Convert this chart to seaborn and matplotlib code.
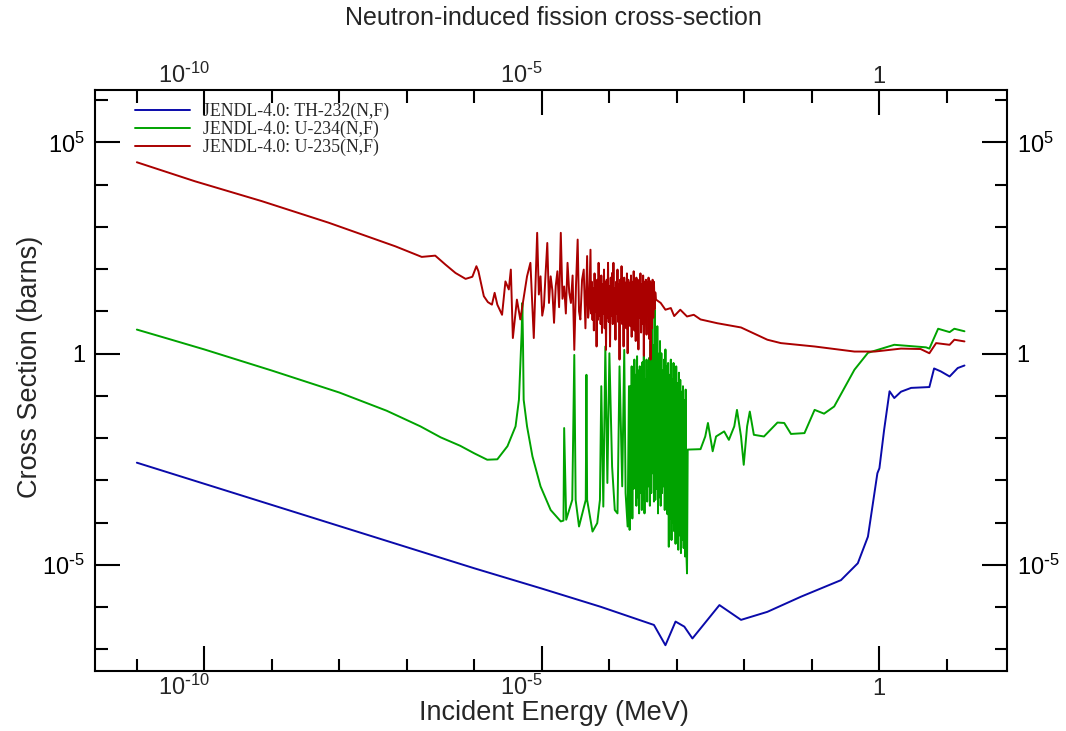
import numpy as np
import pandas as pd
import seaborn as sns
import matplotlib.pyplot as plt
from matplotlib.ticker import FixedLocator, FuncFormatter, NullFormatter
from matplotlib.transforms import ScaledTranslation

# values, stored as log10(energy / MeV) and log10(sigma / barns)
th232_log_e = [-11, -10, -9, -8, -7, -6, -5, -4.13, -3.34, -3.17, -3.02, -2.89, -2.77,
               -2.37, -2.05, -1.66, -1.16, -0.57, -0.32, -0.17, -0.03, 0.0, 0.07, 0.15,
               0.22, 0.32, 0.47, 0.74, 0.81, 0.91, 1.04, 1.16, 1.26]
th232_log_xs = [-2.58, -3.08, -3.58, -4.08, -4.58, -5.08, -5.56, -5.99, -6.42, -6.90, -6.34,
                -6.46, -6.74, -5.95, -6.30, -6.11, -5.75, -5.36, -4.96, -4.33, -2.83, -2.71,
                -1.80, -0.89, -1.05, -0.90, -0.81, -0.79, -0.35, -0.42, -0.54, -0.34, -0.28]

# U-234: thermal part, first resonances, dense unresolved block, fast part
u234_low = [(-11, 0.57), (-10.53, 0.35), (-10, 0.10), (-9, -0.40), (-8, -0.92), (-7.3, -1.35),
            (-6.8, -1.72), (-6.5, -1.98), (-6.21, -2.18), (-6.0, -2.36), (-5.81, -2.51),
            (-5.66, -2.50), (-5.51, -2.19), (-5.39, -1.72), (-5.34, -1.09), (-5.32, -0.30),
            (-5.30, 0.50), (-5.29, 1.20), (-5.28, 0.30), (-5.27, -1.09), (-5.22, -1.72),
            (-5.14, -2.43), (-5.02, -3.14), (-4.87, -3.70), (-4.72, -3.97), (-4.68, -3.95),
            (-4.67, -1.76), (-4.64, -3.93), (-4.55, -3.46), (-4.52, -0.03), (-4.50, -3.46),
            (-4.45, -4.09), (-4.35, -3.46), (-4.34, -0.50), (-4.33, -3.46), (-4.25, -4.21),
            (-4.18, -4.01), (-4.14, -3.46), (-4.12, -0.77), (-4.09, -3.62), (-4.06, 0.17),
            (-4.03, -3.06), (-4.00, 0.01), (-3.96, -2.67), (-3.92, -3.70), (-3.88, -3.78),
            (-3.85, -0.30), (-3.81, -3.14), (-3.78, 0.09), (-3.76, -3.30), (-3.73, -4.09),
            (-3.71, -0.77)]
u234_dense = [(-3.70, -4.17), (-3.69, -0.77), (-3.68, -3.60), (-3.67, -0.30), (-3.66, -3.90),
              (-3.65, -0.60), (-3.64, -3.20), (-3.63, -0.14), (-3.62, -2.91), (-3.61, -0.50),
              (-3.60, -3.60), (-3.59, -0.06), (-3.58, -3.40), (-3.57, -0.40), (-3.56, -3.78),
              (-3.55, -0.30), (-3.54, -3.30), (-3.53, -0.90), (-3.52, -3.70), (-3.51, -0.20),
              (-3.50, -3.46), (-3.49, -0.06), (-3.48, -3.78), (-3.47, -0.60), (-3.46, -3.20),
              (-3.45, -0.14), (-3.44, -3.50), (-3.43, -0.40), (-3.42, -3.14), (-3.41, -0.10),
              (-3.40, -3.60), (-3.39, 0.30), (-3.38, -3.30), (-3.37, 0.65), (-3.36, -2.83),
              (-3.35, 0.20), (-3.34, -3.50), (-3.33, 1.04), (-3.32, -3.46), (-3.31, 0.40),
              (-3.30, -3.20), (-3.29, 0.65), (-3.28, -3.78), (-3.27, 0.00), (-3.26, -3.40),
              (-3.25, 0.30), (-3.24, -3.60), (-3.23, 0.01), (-3.22, -3.30), (-3.21, -0.40),
              (-3.20, -3.14), (-3.19, -0.14), (-3.18, -3.70), (-3.17, 0.10), (-3.16, -3.40),
              (-3.15, -0.30), (-3.14, -3.80), (-3.13, -0.22), (-3.12, -4.57), (-3.11, -0.50),
              (-3.10, -3.90), (-3.09, -0.14), (-3.08, -4.41), (-3.07, -0.60), (-3.06, -4.00),
              (-3.05, -0.22), (-3.04, -4.20), (-3.03, -0.40), (-3.02, -4.50), (-3.01, -0.30),
              (-3.00, -3.90), (-2.99, -0.70), (-2.98, -4.64), (-2.97, -0.45), (-2.96, -4.30),
              (-2.95, -0.62), (-2.94, -4.72), (-2.93, -0.90), (-2.92, -4.40), (-2.91, -0.77),
              (-2.90, -4.60), (-2.89, -1.10), (-2.88, -4.80), (-2.87, -0.85), (-2.86, -4.70),
              (-2.85, -5.20)]
u234_high = [(-2.84, -2.27), (-2.65, -2.26), (-2.58, -1.96), (-2.54, -1.64), (-2.47, -2.31),
             (-2.42, -1.96), (-2.30, -1.84), (-2.23, -2.04), (-2.15, -1.72), (-2.11, -1.33),
             (-2.05, -1.96), (-2.01, -2.63), (-1.96, -1.72), (-1.92, -1.37), (-1.86, -1.92),
             (-1.71, -1.96), (-1.51, -1.63), (-1.41, -1.64), (-1.31, -1.90), (-1.11, -1.88),
             (-0.96, -1.33), (-0.82, -1.42), (-0.67, -1.25), (-0.37, -0.38), (-0.17, 0.02),
             (0.22, 0.21), (0.69, 0.15), (0.74, 0.12), (0.87, 0.59), (1.04, 0.51), (1.11, 0.59),
             (1.26, 0.53)]

# U-235: same split
u235_low = [(-11, 4.53), (-10.14, 4.08), (-9.15, 3.61), (-8.16, 3.10), (-7.17, 2.54),
            (-6.78, 2.29), (-6.58, 2.32), (-6.43, 2.11), (-6.28, 1.91), (-6.13, 1.77),
            (-6.03, 1.82), (-5.97, 2.07), (-5.94, 1.95), (-5.86, 1.36), (-5.80, 1.22),
            (-5.74, 1.16), (-5.70, 1.44), (-5.66, 1.16), (-5.59, 0.92), (-5.54, 1.71),
            (-5.49, 1.52), (-5.46, 1.99), (-5.43, 0.37), (-5.37, 1.28), (-5.32, 0.81),
            (-5.27, 1.32), (-5.22, 1.83), (-5.17, 2.15), (-5.12, 0.37), (-5.07, 2.86),
            (-5.045, 1.40), (-5.02, 1.83), (-4.995, 0.90), (-4.97, 1.12), (-4.945, 1.90),
            (-4.92, 2.62), (-4.895, 1.20), (-4.87, 1.83), (-4.845, 1.50), (-4.82, 0.73),
            (-4.795, 1.60), (-4.77, 1.95), (-4.745, 1.10), (-4.72, 2.86), (-4.695, 1.30),
            (-4.67, 1.59), (-4.645, 0.95), (-4.62, 2.15), (-4.595, 1.45), (-4.57, 1.20),
            (-4.545, 1.85), (-4.52, 0.09), (-4.495, 1.60), (-4.47, 2.70), (-4.45, 1.00),
            (-4.43, 0.81), (-4.405, 1.75), (-4.38, 1.99), (-4.355, 0.60), (-4.33, 2.31),
            (-4.315, 0.85), (-4.30, 1.10)]
u235_dense = [(-4.28, 2.46), (-4.27, 0.95), (-4.26, 1.70), (-4.25, 0.80), (-4.24, 1.55),
              (-4.23, 0.55), (-4.22, 1.90), (-4.21, 1.00), (-4.20, 1.60), (-4.19, 0.17),
              (-4.18, 1.75), (-4.17, 0.80), (-4.16, 2.15), (-4.15, 0.90), (-4.14, 1.50),
              (-4.13, 0.70), (-4.12, 1.85), (-4.11, 0.49), (-4.10, 1.65), (-4.09, 0.95),
              (-4.08, 1.99), (-4.07, 0.60), (-4.06, 1.70), (-4.05, 0.09), (-4.04, 1.75),
              (-4.03, 0.85), (-4.02, 2.15), (-4.01, 0.75), (-4.00, 1.60), (-3.99, 0.17),
              (-3.98, 1.80), (-3.97, 0.90), (-3.96, 1.91), (-3.95, 0.70), (-3.94, 2.15),
              (-3.93, 0.85), (-3.92, 1.55), (-3.91, 0.33), (-3.90, 1.70), (-3.89, 0.95),
              (-3.88, 1.99), (-3.87, 0.75), (-3.86, 1.65), (-3.85, -0.14), (-3.84, 1.75),
              (-3.83, 0.80), (-3.82, 2.07), (-3.81, 0.70), (-3.80, 1.60), (-3.79, 0.17),
              (-3.78, 1.80), (-3.77, 0.85), (-3.76, 1.68), (-3.75, 0.60), (-3.74, 1.90),
              (-3.73, 0.01), (-3.72, 1.75), (-3.71, 0.80), (-3.70, 1.68), (-3.69, 0.65),
              (-3.68, 1.85), (-3.67, 0.40), (-3.66, 1.70), (-3.65, 0.90), (-3.64, 1.95),
              (-3.63, 0.55), (-3.62, 1.60), (-3.61, 0.30), (-3.60, 1.80), (-3.59, 0.75),
              (-3.58, 1.75), (-3.57, 0.10), (-3.56, 1.70), (-3.55, 0.85), (-3.54, 1.90),
              (-3.53, 0.50), (-3.52, 1.65), (-3.51, 0.70), (-3.50, 1.85), (-3.49, -0.05),
              (-3.48, 1.70), (-3.47, 0.80), (-3.46, 1.75), (-3.45, 0.45), (-3.44, 1.68),
              (-3.43, 0.90), (-3.42, 1.80), (-3.41, 0.35), (-3.40, 1.72), (-3.39, -0.14),
              (-3.38, 1.68), (-3.37, 0.60), (-3.36, 1.75), (-3.35, 0.85), (-3.34, 1.70),
              (-3.33, 1.05), (-3.32, 1.45), (-3.31, 1.28)]
u235_high = [(-3.24, 1.20), (-3.17, 1.04), (-3.09, 1.08), (-3.04, 0.89), (-2.95, 1.04),
             (-2.85, 0.88), (-2.75, 0.92), (-2.65, 0.81), (-2.40, 0.72), (-2.05, 0.62),
             (-1.66, 0.33), (-1.46, 0.25), (-0.96, 0.17), (-0.37, 0.05), (-0.07, 0.05),
             (0.32, 0.12), (0.61, 0.11), (0.74, 0.01), (0.84, 0.25), (1.04, 0.21), (1.11, 0.33),
             (1.26, 0.29)]

series_names = ['JENDL-4.0: TH-232(N,F)', 'JENDL-4.0: U-234(N,F)', 'JENDL-4.0: U-235(N,F)']
series_colors = ['#0a0aaa', '#00a300', '#aa0000']
x_label_ticks = [1e-10, 1e-5, 1.0]
x_label_shift_px = [-20, -20, -1]   # the source plot sets these labels left of their ticks


def to_frame(log_e, log_xs):
    return pd.DataFrame({'energy': np.power(10.0, log_e), 'xs': np.power(10.0, log_xs)})


def pairs_frame(*parts):
    pts = [p for part in parts for p in part]
    return to_frame([p[0] for p in pts], [p[1] for p in pts])


def decade_label(v, pos=None):
    e = int(round(np.log10(v)))
    if e == 0:
        return '1'
    sign = r'\text{-}' if e < 0 else ''
    return f'$10^{{{sign}{abs(e)}}}$'


sns.set_theme(style='ticks')
plt.rcParams['font.family'] = ['Liberation Sans', 'DejaVu Sans']
plt.rcParams['mathtext.default'] = 'regular'
plt.rcParams['path.simplify'] = False  # keep the dense resonance zig-zags

fig = plt.figure(figsize=(10.66, 7.31), dpi=100)
ax = fig.add_axes([95 / 1066, 1 - 671 / 731, 912 / 1066, 581 / 731])

frames = [to_frame(th232_log_e, th232_log_xs),
          pairs_frame(u234_low, u234_dense, u234_high),
          pairs_frame(u235_low, u235_dense, u235_high)]
for df, name, color in zip(frames, series_names, series_colors):
    sns.lineplot(data=df, x='energy', y='xs', ax=ax, color=color, lw=1.4,
                 sort=False, estimator=None, label=name)

ax.set_xscale('log')
ax.set_yscale('log')
ax.set_xlim(10 ** -11.62, 10 ** 1.89)
ax.set_ylim(10 ** -7.51, 10 ** 6.24)
ax.set_xlabel('')
ax.set_ylabel('')

# labelled ticks every 5 decades, plain ticks every decade
ax.xaxis.set_major_locator(FixedLocator(x_label_ticks))
ax.xaxis.set_minor_locator(FixedLocator([10.0 ** k for k in range(-12, 3)]))
ax.yaxis.set_major_locator(FixedLocator([1e-5, 1.0, 1e5]))
ax.yaxis.set_minor_locator(FixedLocator([10.0 ** k for k in range(-8, 7)]))
ax.xaxis.set_major_formatter(NullFormatter())
ax.yaxis.set_major_formatter(FuncFormatter(decade_label))
ax.xaxis.set_minor_formatter(NullFormatter())
ax.yaxis.set_minor_formatter(NullFormatter())

ax.tick_params(which='both', direction='in', top=True, right=True,
               labeltop=False, labelbottom=False, labelright=True, width=1.5,
               colors='black', labelsize=17, pad=7)
ax.tick_params(which='major', length=18)
ax.tick_params(which='minor', length=9)
for side in ax.spines.values():
    side.set_linewidth(1.5)
    side.set_color('black')

# energy labels on both the bottom and the top edge
xtrans = ax.get_xaxis_transform()
for v, shift in zip(x_label_ticks, x_label_shift_px):
    off = ScaledTranslation(shift / 100, 0, fig.dpi_scale_trans)
    ax.text(v, -24 / 581, decade_label(v), transform=xtrans + off, fontsize=17,
            ha='center', va='baseline')
    ax.text(v, 1 + 7 / 581, decade_label(v), transform=xtrans + off, fontsize=17,
            ha='center', va='baseline')

fig.text(554 / 1066, 1 - 713 / 731, 'Incident Energy (MeV)', fontsize=19.5,
         ha='center', va='center')
fig.text(30 / 1066, 1 - 367 / 731, 'Cross Section (barns)', fontsize=19.5,
         ha='center', va='center', rotation=90)
fig.text(553 / 1066, 1 - 18 / 731, 'Neutron-induced fission cross-section',
         fontsize=18, ha='center', va='center')

handles, labels = ax.get_legend_handles_labels()
ax.legend(handles, labels, loc='upper left', frameon=False,
          bbox_to_anchor=(135 / 1066, 1 - 103 / 731), bbox_transform=fig.transFigure,
          borderpad=0, borderaxespad=0, labelspacing=0.03, handlelength=3.1,
          handletextpad=0.7, prop={'family': 'Liberation Serif', 'size': 12.8})

fig.savefig('out.png', dpi=100)
